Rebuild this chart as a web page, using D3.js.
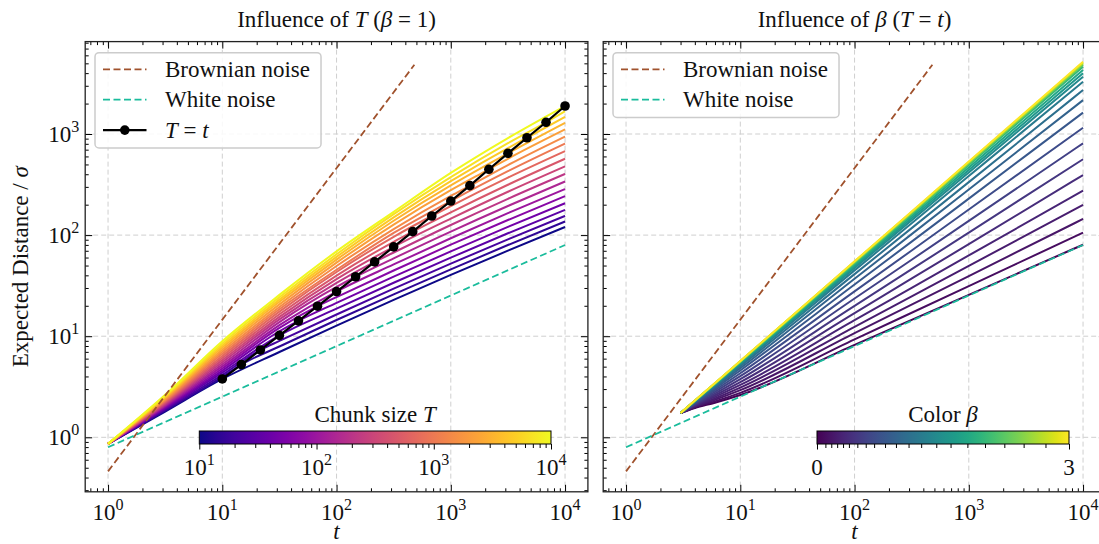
<!DOCTYPE html>
<html><head><meta charset="utf-8">
<script src="https://cdn.jsdelivr.net/npm/d3@7"></script>
<style>
body{margin:0;background:#fff}
svg{display:block}
text{font-family:"Liberation Serif","Times New Roman",serif;fill:#111}
</style>
</head><body>
<svg id="c" width="1099" height="544"></svg>
<script>
// ---------------- data ----------------
const xTickValues = [1, 10, 100, 1000, 10000];
const xTickExponents = ["0", "1", "2", "3", "4"];
const yTickValues = [1, 10, 100, 1000];
const yTickExponents = ["0", "1", "2", "3"];

// reference noise lines
const brownT = [1, 480];
const brownValues = [0.4607, 4845];
const whiteT = [1, 10000];
const whiteValues = [0.798, 79.8];

// left panel: chunk sizes T and curves (log10 of expected distance) at leftT
const chunkSizes = [10, 14.68, 21.54, 31.62, 46.42, 68.13, 100, 146.8, 215.4, 316.2,
                    464.2, 681.3, 1000, 1468, 2154, 3162, 4642, 6813, 10000];
const tEqualsTLog10 = [0.577, 0.720, 0.864, 1.008, 1.152, 1.297, 1.442, 1.588, 1.735, 1.884,
                       2.034, 2.189, 2.337, 2.489, 2.651, 2.809, 2.963, 3.116, 3.277];
const leftT = [1, 3.162, 10, 31.62, 100, 316.2, 1000, 3162, 10000];
const leftCurveLog10 = [
  [-0.065, 0.255, 0.577, 0.844, 1.105, 1.359, 1.606, 1.846, 2.080],
  [-0.065, 0.264, 0.598, 0.898, 1.160, 1.414, 1.661, 1.902, 2.135],
  [-0.065, 0.273, 0.618, 0.953, 1.215, 1.470, 1.718, 1.958, 2.190],
  [-0.065, 0.283, 0.639, 1.008, 1.272, 1.529, 1.777, 2.018, 2.250],
  [-0.065, 0.292, 0.660, 1.049, 1.330, 1.589, 1.839, 2.081, 2.315],
  [-0.065, 0.301, 0.681, 1.083, 1.387, 1.650, 1.905, 2.149, 2.385],
  [-0.065, 0.310, 0.701, 1.109, 1.442, 1.710, 1.969, 2.217, 2.455],
  [-0.065, 0.319, 0.722, 1.140, 1.488, 1.770, 2.035, 2.288, 2.530],
  [-0.065, 0.328, 0.743, 1.166, 1.528, 1.828, 2.100, 2.359, 2.605],
  [-0.065, 0.338, 0.763, 1.191, 1.565, 1.884, 2.163, 2.429, 2.680],
  [-0.065, 0.347, 0.784, 1.217, 1.600, 1.934, 2.225, 2.498, 2.755],
  [-0.065, 0.356, 0.805, 1.243, 1.635, 1.983, 2.287, 2.568, 2.830],
  [-0.065, 0.365, 0.826, 1.266, 1.657, 2.022, 2.337, 2.632, 2.905],
  [-0.065, 0.374, 0.846, 1.289, 1.694, 2.060, 2.388, 2.693, 2.975],
  [-0.065, 0.383, 0.867, 1.315, 1.728, 2.104, 2.444, 2.755, 3.045],
  [-0.065, 0.393, 0.888, 1.340, 1.758, 2.142, 2.492, 2.809, 3.110],
  [-0.065, 0.402, 0.908, 1.362, 1.785, 2.175, 2.534, 2.861, 3.170],
  [-0.065, 0.411, 0.929, 1.385, 1.811, 2.207, 2.573, 2.909, 3.225],
  [-0.065, 0.420, 0.950, 1.409, 1.839, 2.230, 2.615, 2.960, 3.277]
];

// right panel: colour exponents beta and curves (log10) at rightT
const betas = [0, 0.10, 0.17, 0.24, 0.31, 0.38, 0.48, 0.58, 0.68, 0.81, 0.94,
               1.09, 1.24, 1.42, 1.59, 1.79, 2.00, 2.23, 2.46, 2.72, 3.00];
const rightT = [3, 4, 6, 10, 100, 1000, 10000];
const rightCurveLog10 = [
  [0.24, 0.290, 0.342, 0.418, 0.914, 1.409, 1.905],
  [0.24, 0.295, 0.355, 0.440, 0.968, 1.496, 2.024],
  [0.24, 0.300, 0.370, 0.466, 1.031, 1.595, 2.160],
  [0.24, 0.306, 0.384, 0.491, 1.093, 1.696, 2.298],
  [0.24, 0.312, 0.400, 0.518, 1.158, 1.799, 2.439],
  [0.24, 0.318, 0.416, 0.546, 1.229, 1.911, 2.594],
  [0.24, 0.324, 0.432, 0.575, 1.300, 2.025, 2.750],
  [0.24, 0.331, 0.450, 0.605, 1.373, 2.140, 2.908],
  [0.24, 0.337, 0.466, 0.634, 1.443, 2.253, 3.062],
  [0.24, 0.343, 0.482, 0.661, 1.511, 2.361, 3.211],
  [0.24, 0.348, 0.495, 0.684, 1.568, 2.451, 3.335],
  [0.24, 0.352, 0.506, 0.703, 1.614, 2.524, 3.435],
  [0.24, 0.355, 0.515, 0.718, 1.651, 2.584, 3.517],
  [0.24, 0.357, 0.520, 0.728, 1.674, 2.620, 3.567],
  [0.24, 0.358, 0.524, 0.734, 1.689, 2.645, 3.600],
  [0.24, 0.360, 0.527, 0.740, 1.704, 2.669, 3.633],
  [0.24, 0.361, 0.531, 0.746, 1.719, 2.693, 3.666],
  [0.24, 0.362, 0.533, 0.750, 1.728, 2.707, 3.685],
  [0.24, 0.362, 0.534, 0.752, 1.734, 2.715, 3.697],
  [0.24, 0.363, 0.535, 0.7535, 1.738, 2.722, 3.706],
  [0.24, 0.363, 0.536, 0.755, 1.741, 2.728, 3.714]
];

// colour bars
const chunkBarDomain = [10, 10000];
const chunkBarTicks = [10, 100, 1000, 10000];
const chunkBarExponents = ["1", "2", "3", "4"];
const betaBarDomain = [0, 3];
const betaBarLabels = [0, 3];

// ---------------- drawing ----------------
const FS = 23;
const svg = d3.select('#c');
const yTop = 41.6, yBot = 491.8;
const xDomain = [Math.pow(10, -0.2), Math.pow(10, 4.2)];
const yDomain = [Math.pow(10, -0.539), Math.pow(10, 3.914)];
const BROWN = '#a0522d', WHITE = '#1abc9c';

function supText(sel, base, exp) {
  sel.append('tspan').text(base);
  sel.append('tspan').attr('font-size', FS * 0.7).attr('dy', -FS * 0.42).text(exp);
}
function mathText(sel, parts) {
  parts.forEach(p => {
    const t = sel.append('tspan').text(p[0]);
    if (p[1]) t.attr('font-style', 'italic');
  });
}

function panel(x0, x1, showYLabels, titleParts) {
  const x = d3.scaleLog().domain(xDomain).range([x0, x1]);
  const y = d3.scaleLog().domain(yDomain).range([yBot, yTop]);
  const g = svg.append('g');
  const clipId = 'clip' + Math.round(x0);
  svg.append('clipPath').attr('id', clipId).append('rect')
    .attr('x', x0).attr('y', yTop).attr('width', x1 - x0).attr('height', yBot - yTop);

  // grid
  const grid = g.append('g').attr('stroke', '#cfcfcf').attr('stroke-width', 1).attr('stroke-dasharray', '5,3');
  xTickValues.forEach(v => grid.append('line').attr('x1', x(v)).attr('x2', x(v)).attr('y1', yTop).attr('y2', yBot));
  yTickValues.forEach(v => grid.append('line').attr('y1', y(v)).attr('y2', y(v)).attr('x1', x0).attr('x2', x1));

  // ticks via d3 axes (inward)
  const xMinor = x.ticks().filter(v => !xTickValues.some(m => Math.abs(m - v) < 1e-9));
  const yMinor = y.ticks().filter(v => !yTickValues.some(m => Math.abs(m - v) < 1e-9));
  const addAxis = (axisFn, scale, vals, size, transform) => {
    const a = axisFn(scale).tickValues(vals).tickSizeInner(-size).tickSizeOuter(0).tickFormat('');
    const ga = g.append('g').attr('transform', transform).call(a);
    ga.select('.domain').remove();
    ga.selectAll('line').attr('stroke', '#000').attr('stroke-width', 1);
  };
  addAxis(d3.axisBottom, x, xTickValues, 7, `translate(0,${yBot})`);
  addAxis(d3.axisBottom, x, xMinor, 3.5, `translate(0,${yBot})`);
  addAxis(d3.axisTop, x, xTickValues, 7, `translate(0,${yTop})`);
  addAxis(d3.axisTop, x, xMinor, 3.5, `translate(0,${yTop})`);
  addAxis(d3.axisLeft, y, yTickValues, 7, `translate(${x0},0)`);
  addAxis(d3.axisLeft, y, yMinor, 3.5, `translate(${x0},0)`);
  addAxis(d3.axisRight, y, yTickValues, 7, `translate(${x1},0)`);
  addAxis(d3.axisRight, y, yMinor, 3.5, `translate(${x1},0)`);

  // tick labels
  xTickValues.forEach((v, k) => {
    const t = g.append('text').attr('x', x(v)).attr('y', 520).attr('text-anchor', 'middle').attr('font-size', FS);
    supText(t, '10', xTickExponents[k]);
  });
  if (showYLabels) {
    yTickValues.forEach((v, k) => {
      const t = g.append('text').attr('x', x0 - 6).attr('y', y(v) + 7.5).attr('text-anchor', 'end').attr('font-size', FS);
      supText(t, '10', yTickExponents[k]);
    });
  }
  // axis label and title
  const xl = g.append('text').attr('x', (x0 + x1) / 2).attr('y', 539).attr('text-anchor', 'middle').attr('font-size', FS);
  mathText(xl, [['t', true]]);
  const tt = g.append('text').attr('x', (x0 + x1) / 2).attr('y', 27).attr('text-anchor', 'middle').attr('font-size', FS);
  mathText(tt, titleParts);

  const plot = g.append('g').attr('clip-path', `url(#${clipId})`);
  return { x, y, g, plot };
}

const L = panel(85.2, 587.9, true, [['Influence of '], ['T', true], [' ('], ['β', true], [' = 1)']]);
const R = panel(603.2, 1105.9, false, [['Influence of '], ['β', true], [' ('], ['T', true], [' = '], ['t', true], [')']]);

// y label
const yl = svg.append('text').attr('transform', `translate(28,${(yTop + yBot) / 2}) rotate(-90)`)
  .attr('text-anchor', 'middle').attr('font-size', FS);
mathText(yl, [['Expected Distance / '], ['σ', true]]);

// ---- left curves
const lineL = d3.line().x(d => L.x(d[0])).y(d => L.y(d[1])).curve(d3.curveMonotoneX);
const plasmaNorm = d3.scaleLog().domain(chunkBarDomain).range([0, 1]);
chunkSizes.forEach((T, i) => {
  const pts = leftT.map((t, j) => [t, Math.pow(10, leftCurveLog10[i][j])]);
  if (!pts.some(p => Math.abs(Math.log10(p[0] / T)) < 0.01)) pts.push([T, Math.pow(10, tEqualsTLog10[i])]);
  pts.sort((a, b) => a[0] - b[0]);
  L.plot.append('path').datum(pts).attr('d', lineL).attr('fill', 'none')
    .attr('stroke', d3.interpolatePlasma(plasmaNorm(T))).attr('stroke-width', 2);
});
function noiseLines(P) {
  const ln = d3.line().x(d => P.x(d[0])).y(d => P.y(d[1]));
  P.plot.append('path').datum(brownT.map((t, k) => [t, brownValues[k]])).attr('d', ln)
    .attr('fill', 'none').attr('stroke', BROWN).attr('stroke-width', 1.8).attr('stroke-dasharray', '7,3.5');
  P.plot.append('path').datum(whiteT.map((t, k) => [t, whiteValues[k]])).attr('d', ln)
    .attr('fill', 'none').attr('stroke', WHITE).attr('stroke-width', 1.8).attr('stroke-dasharray', '7,3.5');
}
noiseLines(L);
// T = t line
const tt = chunkSizes.map((T, i) => [T, Math.pow(10, tEqualsTLog10[i])]);
L.plot.append('path').datum(tt).attr('d', d3.line().x(d => L.x(d[0])).y(d => L.y(d[1])))
  .attr('fill', 'none').attr('stroke', '#000').attr('stroke-width', 2.2);
L.plot.selectAll('circle.dot').data(tt).enter().append('circle')
  .attr('cx', d => L.x(d[0])).attr('cy', d => L.y(d[1])).attr('r', 4.8).attr('fill', '#000');

// ---- right curves
const lineR = d3.line().x(d => R.x(d[0])).y(d => R.y(d[1])).curve(d3.curveMonotoneX);
const viridisNorm = d3.scaleLinear().domain(betaBarDomain).range([0, 1]);
betas.forEach((b, i) => {
  const pts = rightT.map((t, j) => [t, Math.pow(10, rightCurveLog10[i][j])]);
  R.plot.append('path').datum(pts).attr('d', lineR).attr('fill', 'none')
    .attr('stroke', d3.interpolateViridis(viridisNorm(b))).attr('stroke-width', 2);
});
noiseLines(R);

// ---- legends
function legend(x0, y0, entries) {
  const g = svg.append('g');
  const box = g.append('rect');
  let maxW = 0;
  entries.forEach((e, k) => {
    const cy = y0 + 16.6 + k * 30.4;
    const ln = g.append('line').attr('x1', x0 + 8).attr('x2', x0 + 51.5).attr('y1', cy).attr('y2', cy)
      .attr('stroke', e.color).attr('stroke-width', e.dash ? 1.8 : 2.2);
    if (e.dash) ln.attr('stroke-dasharray', '7,3.5');
    if (e.marker) g.append('circle').attr('cx', x0 + 29.8).attr('cy', cy).attr('r', 4.8).attr('fill', e.color);
    const t = g.append('text').attr('x', x0 + 70).attr('y', cy + 7.5).attr('font-size', FS);
    mathText(t, e.parts);
    maxW = Math.max(maxW, t.node().getComputedTextLength());
  });
  box.attr('x', x0).attr('y', y0).attr('width', 70 + maxW + 11).attr('height', entries.length * 30.4 + 4)
    .attr('rx', 4).attr('fill', 'white').attr('fill-opacity', 0.85).attr('stroke', '#cccccc').attr('stroke-width', 1.5);
}
legend(95, 52.7, [
  { color: BROWN, dash: true, parts: [['Brownian noise']] },
  { color: WHITE, dash: true, parts: [['White noise']] },
  { color: '#000', marker: true, parts: [['T', true], [' = '], ['t', true]] }
]);
legend(613, 52.7, [
  { color: BROWN, dash: true, parts: [['Brownian noise']] },
  { color: WHITE, dash: true, parts: [['White noise']] }
]);

// ---- colour bars
const defs = svg.append('defs');
function gradient(id, interp) {
  const gr = defs.append('linearGradient').attr('id', id).attr('x1', '0%').attr('x2', '100%');
  d3.range(0, 1.0001, 0.05).forEach(s => gr.append('stop').attr('offset', (s * 100) + '%').attr('stop-color', interp(s)));
}
gradient('gPlasma', d3.interpolatePlasma);
gradient('gViridis', d3.interpolateViridis);
const barY = 431, barH = 13;
function colorbar(scale, gradId, labelParts, majors, minors, labelFn) {
  const [a, b] = scale.range();
  const g = svg.append('g');
  g.append('rect').attr('x', a).attr('y', barY).attr('width', b - a).attr('height', barH)
    .attr('fill', `url(#${gradId})`).attr('stroke', '#000').attr('stroke-width', 1);
  const axM = d3.axisBottom(scale).tickValues(majors).tickSizeInner(5.5).tickSizeOuter(0).tickFormat('');
  const gm = g.append('g').attr('transform', `translate(0,${barY + barH})`).call(axM);
  gm.select('.domain').remove();
  gm.selectAll('line').attr('stroke', '#000');
  if (minors.length) {
    const axm = d3.axisBottom(scale).tickValues(minors).tickSizeInner(4).tickSizeOuter(0).tickFormat('');
    const gn = g.append('g').attr('transform', `translate(0,${barY + barH})`).call(axm);
    gn.select('.domain').remove();
    gn.selectAll('line').attr('stroke', '#000');
  }
  majors.forEach((v, k) => labelFn(g.append('text').attr('x', scale(v)).attr('y', 475)
    .attr('text-anchor', 'middle').attr('font-size', FS), v, k));
  const t = g.append('text').attr('x', (a + b) / 2).attr('y', 421.7).attr('text-anchor', 'middle').attr('font-size', FS);
  mathText(t, labelParts);
}
const cbL = d3.scaleLog().domain(chunkBarDomain).range([199.3, 551]);
const cbLMinor = cbL.ticks().filter(v => !chunkBarTicks.some(m => Math.abs(m - v) < 1e-9));
colorbar(cbL, 'gPlasma', [['Chunk size '], ['T', true]], chunkBarTicks, cbLMinor,
  (t, v, k) => supText(t, '10', chunkBarExponents[k]));
const cbR = d3.scaleLinear().domain(betaBarDomain).range([817, 1069]);
colorbar(cbR, 'gViridis', [['Color '], ['β', true]], betaBarLabels,
  betas.filter(b => !betaBarLabels.includes(b)), (t, v) => t.text(String(v)));

// frames on top
[[85.2, 587.9], [603.2, 1105.9]].forEach(([a, b]) => svg.append('rect').attr('x', a).attr('y', yTop)
  .attr('width', b - a).attr('height', yBot - yTop).attr('fill', 'none').attr('stroke', '#222').attr('stroke-width', 1.3));
</script>
</body></html>
